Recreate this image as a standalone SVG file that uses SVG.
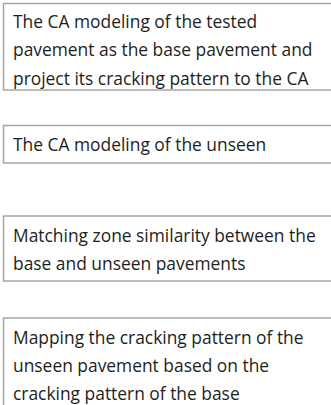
<svg xmlns="http://www.w3.org/2000/svg" width="331" height="405" viewBox="0 0 331 405">
<style>
.box{fill:none;stroke:#a6a6a6;stroke-width:1.5}
.bg{fill:#ffffff}
.t{font-family:"Open Sans","Liberation Sans",sans-serif;font-size:17.4px;fill:#1e1e1e}
</style>
<rect width="331" height="405" fill="#ffffff"/>
<g id="node1">
<rect class="bg" x="3.5" y="3.5" width="340" height="86.5"/>
<text class="t" x="13" y="28">The CA modeling of the tested</text>
<text class="t" x="13" y="56">pavement as the base pavement and</text>
<text class="t" x="13" y="84.5">project its cracking pattern to the CA</text>
<rect class="box" x="3.5" y="3.5" width="340" height="86.5"/>
</g>
<g id="node2">
<rect class="box" x="3.5" y="125.5" width="340" height="37.5"/>
<text class="t" x="13" y="151">The CA modeling of the unseen</text>
</g>
<g id="node3">
<rect class="box" x="3.5" y="216" width="340" height="65"/>
<text class="t" x="13" y="242">Matching zone similarity between the</text>
<text class="t" x="13" y="270">base and unseen pavements</text>
</g>
<g id="node4">
<rect class="box" x="3.5" y="318" width="340" height="100"/>
<text class="t" x="13" y="344">Mapping the cracking pattern of the</text>
<text class="t" x="13" y="372">unseen pavement based on the</text>
<text class="t" x="13" y="400">cracking pattern of the base</text>
</g>
<g id="connectors"></g>
</svg>
